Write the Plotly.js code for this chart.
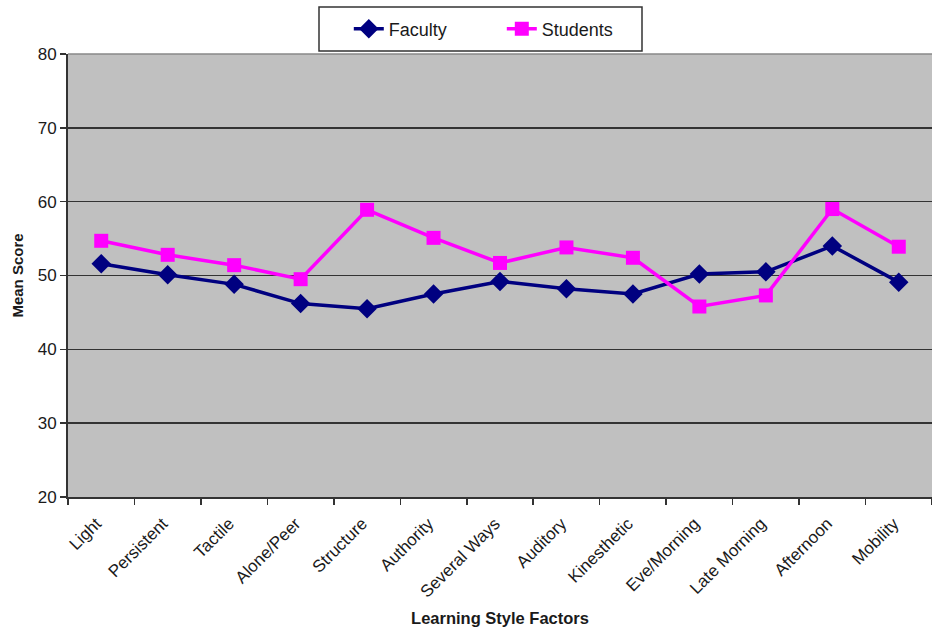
<!DOCTYPE html>
<html>
<head>
<meta charset="utf-8">
<script src="https://cdn.plot.ly/plotly-3.0.1.min.js"></script>
<style>
  html, body { margin: 0; padding: 0; background: #fff; }
  #chart { width: 932px; height: 633px; }
</style>
</head>
<body>
<div id="chart"></div>
<script>
// Learning style factors on the x axis
const factors = ["Light", "Persistent", "Tactile", "Alone/Peer", "Structure", "Authority",
  "Several Ways", "Auditory", "Kinesthetic", "Eve/Morning", "Late Morning", "Afternoon", "Mobility"];

// Mean scores per group
const faculty = [51.6, 50.1, 48.8, 46.2, 45.5, 47.5, 49.2, 48.2, 47.5, 50.2, 50.5, 54.0, 49.1];
const students = [54.7, 52.8, 51.4, 49.5, 58.9, 55.1, 51.7, 53.8, 52.4, 45.8, 47.3, 59.0, 53.9];

const yTicks = [20, 30, 40, 50, 60, 70, 80];

const FONT = "Liberation Sans, Arial, sans-serif";
const INK = "#1a1a1a";

const traces = [
  {
    x: factors, y: faculty, name: "Faculty", type: "scatter", mode: "lines+markers",
    line: { color: "#000080", width: 3.5 },
    marker: { symbol: "diamond", size: 15, color: "#000080" }
  },
  {
    x: factors, y: students, name: "Students", type: "scatter", mode: "lines+markers",
    line: { color: "#ff00ff", width: 3.5 },
    marker: { symbol: "square", size: 14, color: "#ff00ff" }
  }
];

const layout = {
  width: 932, height: 633,
  margin: { l: 68, r: 0, t: 54, b: 136 },
  paper_bgcolor: "#ffffff",
  plot_bgcolor: "#c0c0c0",
  font: { family: FONT, color: INK },
  showlegend: true,
  legend: {
    orientation: "h",
    x: 0.325, xanchor: "left", xref: "paper",
    y: 1.0564, yanchor: "middle",
    borderwidth: 0,
    bgcolor: "rgba(0,0,0,0)",
    entrywidth: 108, entrywidthmode: "pixels",
    font: { size: 18, family: FONT, color: INK }
  },
  xaxis: {
    type: "category",
    range: [-0.5, factors.length - 0.5],
    tickangle: -45,
    tickson: "boundaries",
    ticks: "outside", ticklen: 6, tickwidth: 1.5, tickcolor: "#333",
    ticklabelstandoff: 8,
    ticklabelshift: -5,
    showline: true, linecolor: "#333", linewidth: 2,
    showgrid: false,
    tickfont: { size: 17, family: FONT, color: INK },
    title: { text: "<b>Learning Style Factors</b>", font: { size: 16.5, family: FONT, color: INK }, standoff: 12 },
    automargin: false
  },
  yaxis: {
    range: [20, 80],
    tickvals: yTicks,
    ticktext: yTicks.map(String),
    ticks: "outside", ticklen: 6, tickwidth: 1.5, tickcolor: "#333",
    showline: true, linecolor: "#333", linewidth: 2,
    showgrid: true, gridcolor: "#333", gridwidth: 1.5,
    zeroline: false,
    tickfont: { size: 17, family: FONT, color: INK },
    title: { text: "<b>Mean Score</b>", font: { size: 15, family: FONT, color: INK }, standoff: 10 },
    automargin: false
  },
  shapes: [
    // thin border along the top of the plotting area
    { type: "line", xref: "paper", yref: "paper", x0: 0, x1: 1, y0: 1, y1: 1,
      line: { color: "#888", width: 1.5 } },
    // frame around the legend
    { type: "rect", xref: "paper", yref: "paper",
      x0: (319 - 68) / 864, x1: (642 - 68) / 864,
      y0: 1 + (54 - 51) / 443, y1: 1 + (54 - 7) / 443,
      line: { color: "#333", width: 1.5 }, fillcolor: "rgba(0,0,0,0)" }
  ]
};

Plotly.newPlot("chart", traces, layout, { displayModeBar: false, staticPlot: true });
</script>
</body>
</html>
